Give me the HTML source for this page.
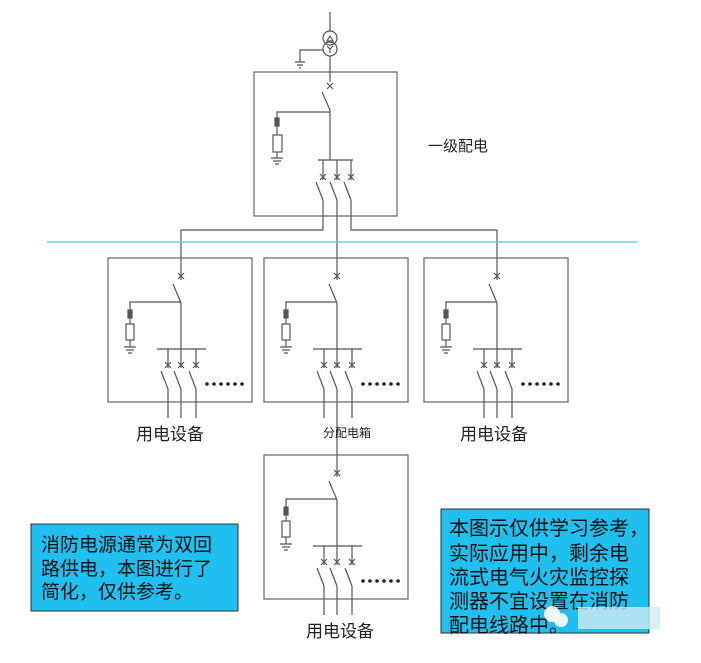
<!DOCTYPE html>
<html><head><meta charset="utf-8"><style>
body{margin:0;background:#fff;width:701px;height:663px;overflow:hidden;font-family:"Liberation Sans","Noto Sans CJK SC",sans-serif}
</style></head><body>
<svg width="701" height="663" viewBox="0 0 701 663" xmlns="http://www.w3.org/2000/svg" style="position:absolute;left:0;top:0">
<defs>
<g id="sub" stroke="#555" stroke-width="1.2" fill="none">
<rect x="0" y="0" width="144" height="144" stroke="#666"/>
<line x1="73" y1="0" x2="73" y2="22"/>
<path d="M70 15 L76 21 M76 15 L70 21"/>
<line x1="65" y1="26" x2="73" y2="45"/>
<line x1="73" y1="45" x2="73" y2="91"/>
<polyline points="73,44 22,44 22,52"/>
<rect x="20" y="52" width="4" height="8" fill="#555"/>
<line x1="22" y1="60" x2="22" y2="66"/>
<rect x="18" y="66" width="8" height="16"/>
<line x1="22" y1="82" x2="22" y2="89"/>
<path d="M16 89 H28 M18 92 H26 M20 95 H24"/>
<line x1="49" y1="91" x2="98" y2="91"/>
<g id="out"><line x1="60" y1="91" x2="60" y2="110"/><path d="M57 104 L63 110 M63 104 L57 110"/><line x1="53" y1="113" x2="60" y2="131"/><line x1="60" y1="131" x2="60" y2="160"/></g>
<use href="#out" x="13"/>
<use href="#out" x="28"/>
<g fill="#222" stroke="none"><circle cx="99" cy="126" r="1.8"/><circle cx="106" cy="126" r="1.8"/><circle cx="113" cy="126" r="1.8"/><circle cx="120" cy="126" r="1.8"/><circle cx="127" cy="126" r="1.8"/><circle cx="134" cy="126" r="1.8"/></g>
</g>
</defs>
<!-- transformer -->
<g stroke="#555" stroke-width="1.2" fill="none">
<line x1="330" y1="12" x2="330" y2="31"/>
<circle cx="330" cy="38" r="7"/>
<circle cx="330" cy="49" r="7"/>
<path d="M327 41 L330 36 L333 41 Z"/>
<path d="M327 46 L330 49 L333 46 M330 49 V53"/>
<polyline points="323,50 300,50 300,62"/>
<path d="M295 62 H305 M297 65 H303 M299 68 H301"/>
<line x1="330" y1="56" x2="330" y2="82"/>
<rect x="254" y="72" width="143" height="144" stroke="#666"/>
<path d="M327 83 L333 89 M333 83 L327 89"/>
<line x1="322" y1="92" x2="330" y2="110"/>
<line x1="330" y1="110" x2="330" y2="160"/>
<polyline points="330,112 277,112 277,118"/>
<rect x="275" y="118" width="4" height="8" fill="#555"/>
<line x1="277" y1="126" x2="277" y2="135"/>
<rect x="273" y="135" width="9" height="17"/>
<line x1="277" y1="152" x2="277" y2="158"/>
<path d="M271 158 H283 M273 161 H281 M275 164 H279"/>
<line x1="318" y1="160" x2="353" y2="160"/>
<line x1="323" y1="160" x2="323" y2="180"/><path d="M320 174 L326 180 M326 174 L320 180"/><line x1="316" y1="182" x2="323" y2="200"/>
<line x1="337" y1="160" x2="337" y2="180"/><path d="M334 174 L340 180 M340 174 L334 180"/><line x1="330" y1="182" x2="337" y2="200"/>
<line x1="351" y1="160" x2="351" y2="180"/><path d="M348 174 L354 180 M354 174 L348 180"/><line x1="344" y1="182" x2="351" y2="200"/>
<polyline points="323,200 323,230 181,230 181,258"/>
<line x1="337" y1="200" x2="337" y2="258"/>
<polyline points="351,200 351,230 497,230 497,258"/>
<line x1="337" y1="418" x2="337" y2="455"/>
</g>
<line x1="47" y1="242" x2="637" y2="242" stroke="#4cc8d8" stroke-width="1.3"/>
<use href="#sub" x="108" y="258"/>
<use href="#sub" x="264" y="258"/>
<use href="#sub" x="424" y="258"/>
<use href="#sub" x="264" y="455"/>
<g fill="#222">
<text x="428" y="151" font-size="15">一级配电</text>
<text x="136" y="440" font-size="17">用电设备</text>
<text x="460" y="440" font-size="17">用电设备</text>
<text x="306" y="637" font-size="17">用电设备</text>
<text x="323" y="437" font-size="12">分配电箱</text>
</g>
<rect x="31" y="524" width="207" height="87" fill="#1fc0ef" stroke="#333" stroke-width="1"/>
<g fill="#111" font-size="19">
<text x="41" y="551">消防电源通常为双回</text>
<text x="41" y="575">路供电，本图进行了</text>
<text x="41" y="598">简化，仅供参考。</text>
</g>
<rect x="441" y="509" width="208" height="124" fill="#1fc0ef" stroke="#333" stroke-width="1"/>
<g fill="#111" font-size="20">
<text x="449" y="535">本图示仅供学习参考，</text>
<text x="449" y="560">实际应用中，剩余电</text>
<text x="449" y="584">流式电气火灾监控探</text>
<text x="449" y="608">测器不宜设置在消防</text>
<text x="449" y="632">配电线路中。</text>
</g>
<rect x="578" y="607" width="82" height="22" fill="#cfeaf3" opacity="0.8"/>
<circle cx="552" cy="614" r="8" fill="#fff" opacity="0.9"/>
<circle cx="561" cy="620" r="7" fill="#fff" opacity="0.9"/>
</svg>
</body></html>
